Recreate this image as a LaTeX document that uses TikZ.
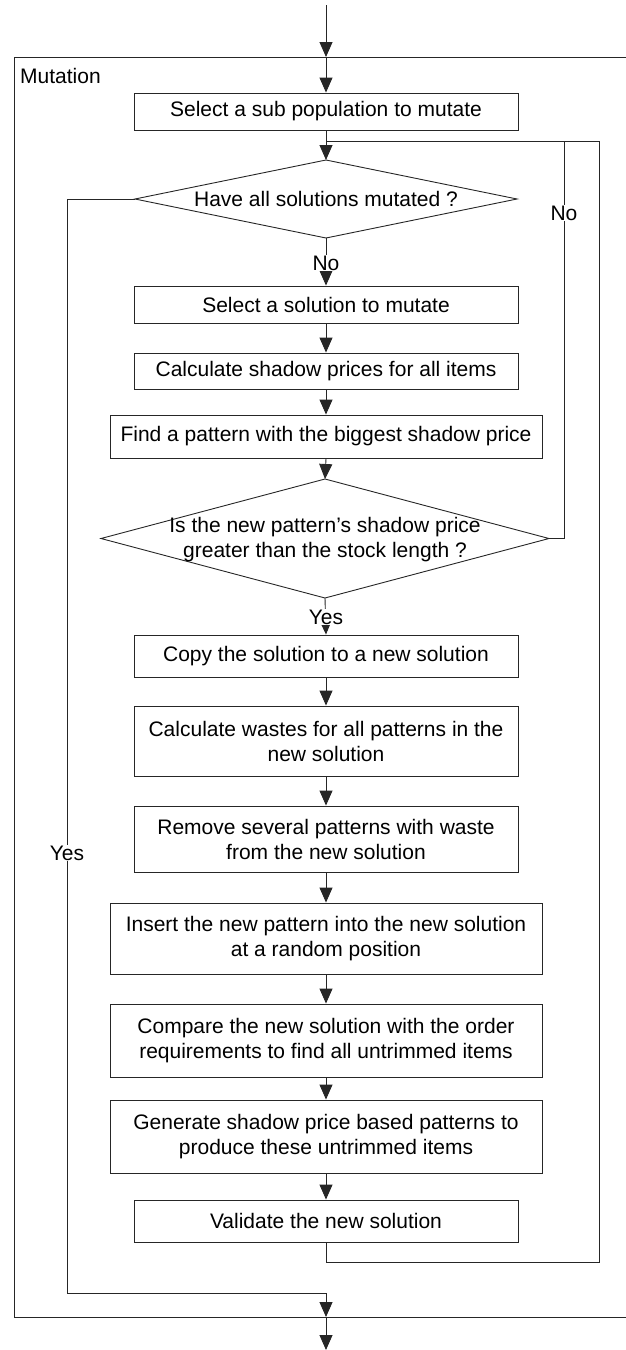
\documentclass[tikz,border=0pt]{standalone}
\usepackage{fontspec}
\setmainfont{Liberation Sans}
\usetikzlibrary{arrows.meta,shapes.geometric}
\begin{document}
\begin{tikzpicture}[x=1pt,y=-1pt,
  every node/.style={font=\fontsize{21}{25}\selectfont, text=black},
  ln/.style={line width=0.9pt, draw=black!85},
  arr/.style={ln, -{Triangle[width=13pt,length=15pt]}},
  stepbox/.style={draw=black!85, line width=0.9pt, rectangle, inner sep=2pt, align=center, minimum width=384pt},
  widebox/.style={stepbox, minimum width=432pt},
  dia/.style={draw=black!85, line width=0.9pt, diamond, inner sep=0pt, outer sep=0pt},
  lbl/.style={fill=white, inner sep=1pt}
]
\useasboundingbox (0,0) rectangle (626,1350);

% frame
\draw[ln] (640,57) -- (14,57) -- (14,1317) -- (640,1317);
\node[anchor=west, inner sep=0pt] (mut) at (20,76) {Mutation};

% boxes
\node[stepbox, minimum height=37pt] (b1) at (326,111.5) {Select a sub population to mutate};
\node[dia, minimum width=382pt, minimum height=78pt] (d1) at (326,199) {};
\node (d1t) at (326,199) {Have all solutions mutated ?};
\node[stepbox, minimum height=37pt] (b2) at (326,304.5) {Select a solution to mutate};
\node[stepbox, minimum height=36pt] (b3) at (326,371) {Calculate shadow prices for all items};
\node[widebox, minimum height=43pt] (b4) at (326,436.5) {Find a pattern with the biggest shadow price};
\node[dia, minimum width=448pt, minimum height=119pt] (d2) at (325,538.5) {};
\node[align=center] (d2t) at (325,540) {Is the new pattern’s shadow price\\greater than the stock length ?};
\node[stepbox, minimum height=42pt] (b5) at (326,656) {Copy the solution to a new solution};
\node[stepbox, minimum height=70pt] (b6) at (326,741) {Calculate wastes for all patterns in the\\new solution};
\node[stepbox, minimum height=66pt] (b7) at (326,839) {Remove several patterns with waste\\from the new solution};
\node[widebox, minimum height=71pt] (b8) at (326,938.5) {Insert the new pattern into the new solution\\at a random position};
\node[widebox, minimum height=73pt] (b9) at (326,1040.5) {Compare the new solution with the order\\requirements to find all untrimmed items};
\node[widebox, minimum height=73pt] (b10) at (326,1136.5) {Generate shadow price based patterns to\\produce these untrimmed items};
\node[stepbox, minimum height=42pt] (b11) at (326,1221) {Validate the new solution};

% coordinates
\coordinate (in) at (326,5);
\coordinate (ftop) at (326,57);
\coordinate (j) at (326,141);
\coordinate (nt) at (564,141);
\coordinate (lt) at (599,141);
\coordinate (lb) at (599,1262);
\coordinate (yl) at (67,1293);
\coordinate (yb) at (326,1293);
\coordinate (fbot) at (326,1317);
\coordinate (out) at (326,1350);

% connectors
\draw[arr] (in) -- (ftop);
\draw[arr] (ftop) -- (b1.north);
\draw[arr] (b1.south) -- (d1.north);
\draw[arr] (d1.south) -- (b2.north);
\draw[arr] (b2.south) -- (b3.north);
\draw[arr] (b3.south) -- (b4.north);
\draw[arr] (b4.south) -- (d2.north);
\draw[arr] (d2.south) -- (b5.north);
\draw[arr] (b5.south) -- (b6.north);
\draw[arr] (b6.south) -- (b7.north);
\draw[arr] (b7.south) -- (b8.north);
\draw[arr] (b8.south) -- (b9.north);
\draw[arr] (b9.south) -- (b10.north);
\draw[arr] (b10.south) -- (b11.north);
\draw[ln] (b11.south) |- (lb) -- (lt) -- (j);
\draw[ln] (d2.east) -| (nt);
\draw[ln] (d1.west) -| (yl) -- (yb);
\draw[arr] (yb) -- (fbot);
\draw[arr] (fbot) -- (out);

% labels
\node[lbl] (no1) at (326,263) {No};
\node[lbl] (yes1) at (326,617) {Yes};
\node[lbl] (no2) at (564,213) {No};
\node[lbl] (yes2) at (67,853) {Yes};
\end{tikzpicture}
\end{document}
